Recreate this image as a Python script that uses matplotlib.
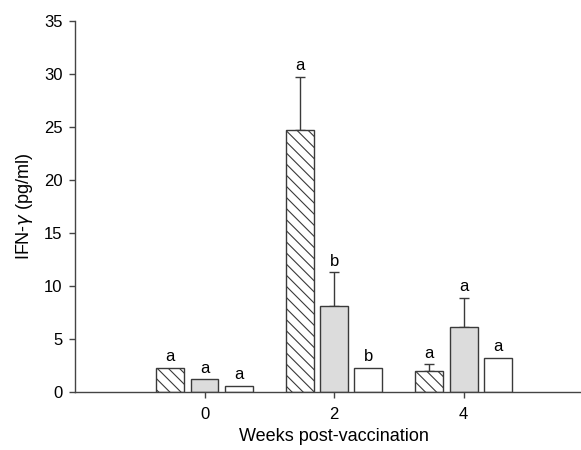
import matplotlib
matplotlib.use("Agg")
import matplotlib.pyplot as plt
import numpy as np

plt.rcParams["font.family"] = ["Liberation Sans", "DejaVu Sans"]
plt.rcParams["hatch.linewidth"] = 0.8
plt.rcParams["hatch.color"] = "#333333"

# IFN-gamma per group at each sampling week
weeks = [0, 2, 4]
hatched_mean = [2.3, 24.7, 2.0]
hatched_err = [0.0, 5.05, 0.6]
gray_mean = [1.2, 8.1, 6.1]
gray_err = [0.0, 3.2, 2.8]
white_mean = [0.6, 2.3, 3.2]
white_err = [0.0, 0.0, 0.0]

hatched_letters = ["a", "a", "a"]
gray_letters = ["a", "b", "a"]
white_letters = ["a", "b", "a"]

width = 0.43
step = 0.53
edge = "#3a3a3a"

fig = plt.figure(figsize=(5.81, 4.5), dpi=100)
ax = fig.add_axes([0.129, 0.129, 0.892, 0.824])

x = np.array(weeks, dtype=float)
series = [
    (hatched_mean, hatched_err, hatched_letters, dict(facecolor="white", hatch="\\\\\\")),
    (gray_mean, gray_err, gray_letters, dict(facecolor="#dcdcdc")),
    (white_mean, white_err, white_letters, dict(facecolor="white")),
]

for i, (mean, err, letters, style) in enumerate(series):
    pos = x + (i - 1) * step
    ax.bar(pos, mean, width=width, edgecolor=edge, linewidth=1.0, zorder=2, **style)
    has_err = np.array(err) > 0
    ax.errorbar(pos[has_err], np.array(mean)[has_err],
                yerr=[np.zeros(has_err.sum()), np.array(err)[has_err]],
                fmt="none", ecolor=edge, elinewidth=1.0, capsize=3.6,
                capthick=1.0, zorder=1)
    for p, m, e, lab in zip(pos, mean, err, letters):
        ax.text(p, m + e + 0.35, lab, ha="center", va="bottom", fontsize=12)

ax.set_xlim(-2, 6)
ax.set_ylim(0, 35)
ax.set_xticks(weeks)
ax.set_yticks(np.arange(0, 36, 5))
ax.spines["top"].set_visible(False)
ax.spines["right"].set_visible(False)
for s in ("left", "bottom"):
    ax.spines[s].set_color("#444444")
    ax.spines[s].set_linewidth(1.0)
ax.tick_params(direction="out", length=4, width=1.0, color="#444444",
               labelsize=12, pad=5)
ax.tick_params(axis="x", pad=7)

ax.set_xlabel("Weeks post-vaccination", fontsize=13, labelpad=4)
ax.set_ylabel("IFN-$\\gamma$ (pg/ml)", fontsize=13, labelpad=6)

fig.savefig("out.png", dpi=100)
